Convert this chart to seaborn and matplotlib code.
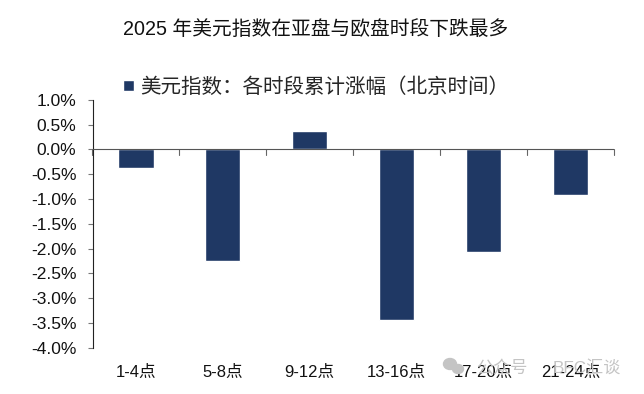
import pandas as pd
import matplotlib
matplotlib.use('Agg')
import matplotlib.pyplot as plt
import seaborn as sns
from matplotlib.patches import Ellipse

periods = ['1-4点', '5-8点', '9-12点', '13-16点', '17-20点', '21-24点']
values = [-0.38, -2.24, 0.37, -3.44, -2.06, -0.92]
y_ticks = [1.0, 0.5, 0.0, -0.5, -1.0, -1.5, -2.0, -2.5, -3.0, -3.5, -4.0]
series_name = '美元指数：各时段累计涨幅（北京时间）'
title = '2025 年美元指数在亚盘与欧盘时段下跌最多'

sns.set_style('white')
plt.rcParams['font.family'] = ['Liberation Sans', 'Noto Sans CJK SC', 'DejaVu Sans']

data = pd.DataFrame({'period': periods, 'value': values})

fig = plt.figure(figsize=(6.44, 3.94), dpi=100)
ax = fig.add_axes([92.5 / 644, 1 - 347.8 / 394, (614 - 92.5) / 644, 248 / 394])

# 水印放在最底层
fig.text(502 / 644, 1 - 368 / 394, '公众号', ha='center', va='center', fontsize=12.3, color='#c4c4c4')
fig.text(587 / 644, 1 - 368 / 394, 'BFC汇谈', ha='center', va='center', fontsize=12.3, color='#c4c4c4')
fig.add_artist(Ellipse((450 / 644, 1 - 364 / 394), 13 / 644, 11 / 394, color='#c4c4c4',
                       transform=fig.transFigure))
fig.add_artist(Ellipse((458 / 644, 1 - 369 / 394), 11 / 644, 9 / 394, color='#c4c4c4',
                       transform=fig.transFigure))

sns.barplot(data=data, x='period', y='value', color='#1f3864', saturation=1,
            width=0.405, label=series_name, ax=ax)
ax.patch.set_alpha(0)

ax.set_xlim(-0.5, 5.5)
ax.set_ylim(-4, 1)
ax.set_yticks(y_ticks)
ax.set_yticklabels([f'{v:.1f}%' for v in y_ticks], fontsize=12.5, color='#111111')
ax.set_xlabel('')
ax.set_ylabel('')

# x轴放在0线，标签放在底部
for s in ['top', 'right', 'bottom']:
    ax.spines[s].set_visible(False)
ax.spines['left'].set_color('#222222')
ax.spines['left'].set_linewidth(0.8)
ax.axhline(0, color='#555555', lw=0.8, zorder=3)

ax.tick_params(axis='y', left=True, length=3.6, width=0.8, color='#777777', pad=8)
ax.tick_params(axis='x', bottom=False, pad=9, labelsize=12, labelcolor='#111111')
for i in range(7):
    ax.plot([i - 0.5, i - 0.5], [0, -0.12], color='#666666', lw=0.8, clip_on=False)

handles, labels = ax.get_legend_handles_labels()
ax.get_legend().remove()
fig.legend(handles, labels, loc='center', bbox_to_anchor=(316 / 644, 1 - 87 / 394),
           frameon=False, fontsize=14.8, handlelength=0.5, handleheight=0.5,
           handletextpad=0.3)

fig.text(316 / 644, 1 - 29 / 394, title, ha='center', va='center', fontsize=14.2, color='#111111')

fig.savefig('out.png', dpi=100, facecolor='white')
